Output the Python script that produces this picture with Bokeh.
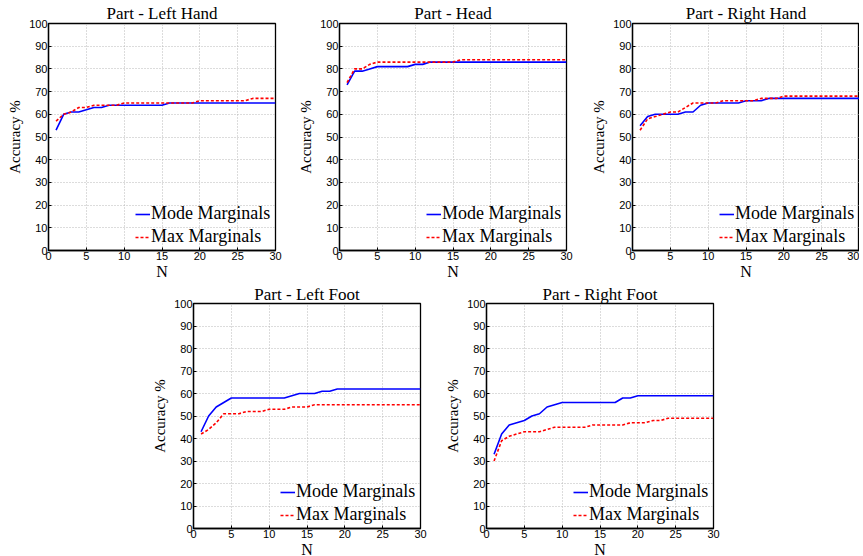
from bokeh.plotting import figure
from bokeh.layouts import column, row, Spacer
from bokeh.models import Legend, LegendItem, Range1d, FixedTicker
from bokeh.embed import file_html
from bokeh.resources import INLINE

# ---------------- data ----------------
N = list(range(1, 31))
x_ticks = [0, 5, 10, 15, 20, 25, 30]
y_ticks = [0, 10, 20, 30, 40, 50, 60, 70, 80, 90, 100]

left_hand_mode = [53, 60, 61, 61, 62, 63, 63] + [64] * 8 + [65] * 15
left_hand_max = [57, 60, 61, 63, 63] + [64] * 4 + [65] * 10 + [66] * 7 + [67] * 4

head_mode = [73, 79, 79, 80] + [81] * 5 + [82] * 2 + [83] * 19
head_max = [74, 80, 80, 82] + [83] * 11 + [84] * 15

right_hand_mode = [55, 59] + [60] * 4 + [61] * 2 + [64] + [65] * 5 + [66] * 3 + [67] * 13
right_hand_max = [53, 58, 59, 60] + [61] * 2 + [63] + [65] * 4 + [66] * 5 + [67] * 3 + [68] * 11

left_foot_mode = [43, 50, 54, 56] + [58] * 8 + [59] + [60] * 3 + [61] * 2 + [62] * 12
left_foot_max = [42, 44, 47] + [51] * 3 + [52] * 3 + [53] * 3 + [54] * 3 + [55] * 15

right_foot_mode = [33, 42, 46, 47, 48, 50, 51, 54, 55] + [56] * 8 + [58] * 2 + [59] * 11
right_foot_max = [30, 39, 41, 42] + [43] * 3 + [44] + [45] * 5 + [46] * 5 + [47] * 3 + [48] * 2 + [49] * 7

titles = ["Part - Left Hand", "Part - Head", "Part - Right Hand",
          "Part - Left Foot", "Part - Right Foot"]
series_names = ["Mode Marginals", "Max Marginals"]

SERIF = "Liberation Serif"
SANS = "Liberation Sans"


def make_fig(title, mode_vals, max_vals, border_left, border_right, frame_h,
             border_top, title_standoff):
    p = figure(frame_width=227, frame_height=frame_h,
               x_range=Range1d(0, 30), y_range=Range1d(0, 100),
               output_backend="svg", toolbar_location=None,
               min_border_left=border_left, min_border_right=border_right,
               min_border_top=border_top, min_border_bottom=0)
    p.title.text = title
    p.title.text_font = SERIF
    p.title.text_font_size = "17px"
    p.title.text_font_style = "normal"
    p.title.text_color = "black"
    p.title.align = "center"
    p.title.standoff = title_standoff
    p.title.offset = 0

    p.outline_line_color = "black"
    p.outline_line_width = 1.3
    p.outline_line_alpha = 1.0

    for ax in (p.xaxis, p.yaxis):
        ax.axis_line_color = "black"
        ax.axis_line_width = 1.3
        ax.major_tick_in = 3
        ax.major_tick_out = 0
        ax.major_tick_line_color = "black"
        ax.minor_tick_line_color = None
        ax.major_label_text_font = SANS
        ax.major_label_text_font_size = "11px"
        ax.major_label_text_color = "black"
        ax.major_label_standoff = 1
        ax.axis_label_text_font = SERIF
        ax.axis_label_text_font_style = "normal"
        ax.axis_label_text_color = "black"
        ax.axis_label_standoff = 0
    p.xaxis.ticker = FixedTicker(ticks=x_ticks)
    p.yaxis.ticker = FixedTicker(ticks=y_ticks)
    p.xaxis.axis_label = "N"
    p.xaxis.axis_label_text_font_size = "16px"
    p.yaxis.axis_label = "Accuracy %"
    p.yaxis.axis_label_text_font_size = "15px"
    p.yaxis.axis_label_standoff = 3

    for g in (p.xgrid, p.ygrid):
        g.grid_line_color = "#b8b8b8"
        g.grid_line_dash = "1 2"
        g.grid_line_width = 1

    r1 = p.line(N, mode_vals, line_color="#0000ff", line_width=1.6)
    r2 = p.line(N, max_vals, line_color="#ff0000", line_width=1.6, line_dash="3 2")

    legend = Legend(items=[LegendItem(label=series_names[0], renderers=[r1]),
                           LegendItem(label=series_names[1], renderers=[r2])],
                    location=(87, 3))
    legend.background_fill_alpha = 0
    legend.border_line_alpha = 0
    legend.label_text_font = SERIF
    legend.label_text_font_size = "18px"
    legend.label_text_color = "black"
    legend.glyph_width = 15
    legend.glyph_height = 18
    legend.label_height = 18
    legend.label_standoff = 1
    legend.spacing = 2
    legend.padding = 0
    legend.margin = 0
    p.add_layout(legend)
    return p


p1 = make_fig(titles[0], left_hand_mode, left_hand_max, 40, 20, 227, 4, 2)
p2 = make_fig(titles[1], head_mode, head_max, 40, 22, 227, 4, 2)
p3 = make_fig(titles[2], right_hand_mode, right_hand_max, 40, 0, 227, 4, 2)
p4 = make_fig(titles[3], left_foot_mode, left_foot_max, 40, 22, 225, 0, 0)
p5 = make_fig(titles[4], right_foot_mode, right_foot_max, 40, 10, 225, 0, 0)

layout = column(row(Spacer(width=4), p1, p2, p3),
                row(Spacer(width=149), p4, p5))

open("out.html", "w").write(file_html(layout, INLINE))
